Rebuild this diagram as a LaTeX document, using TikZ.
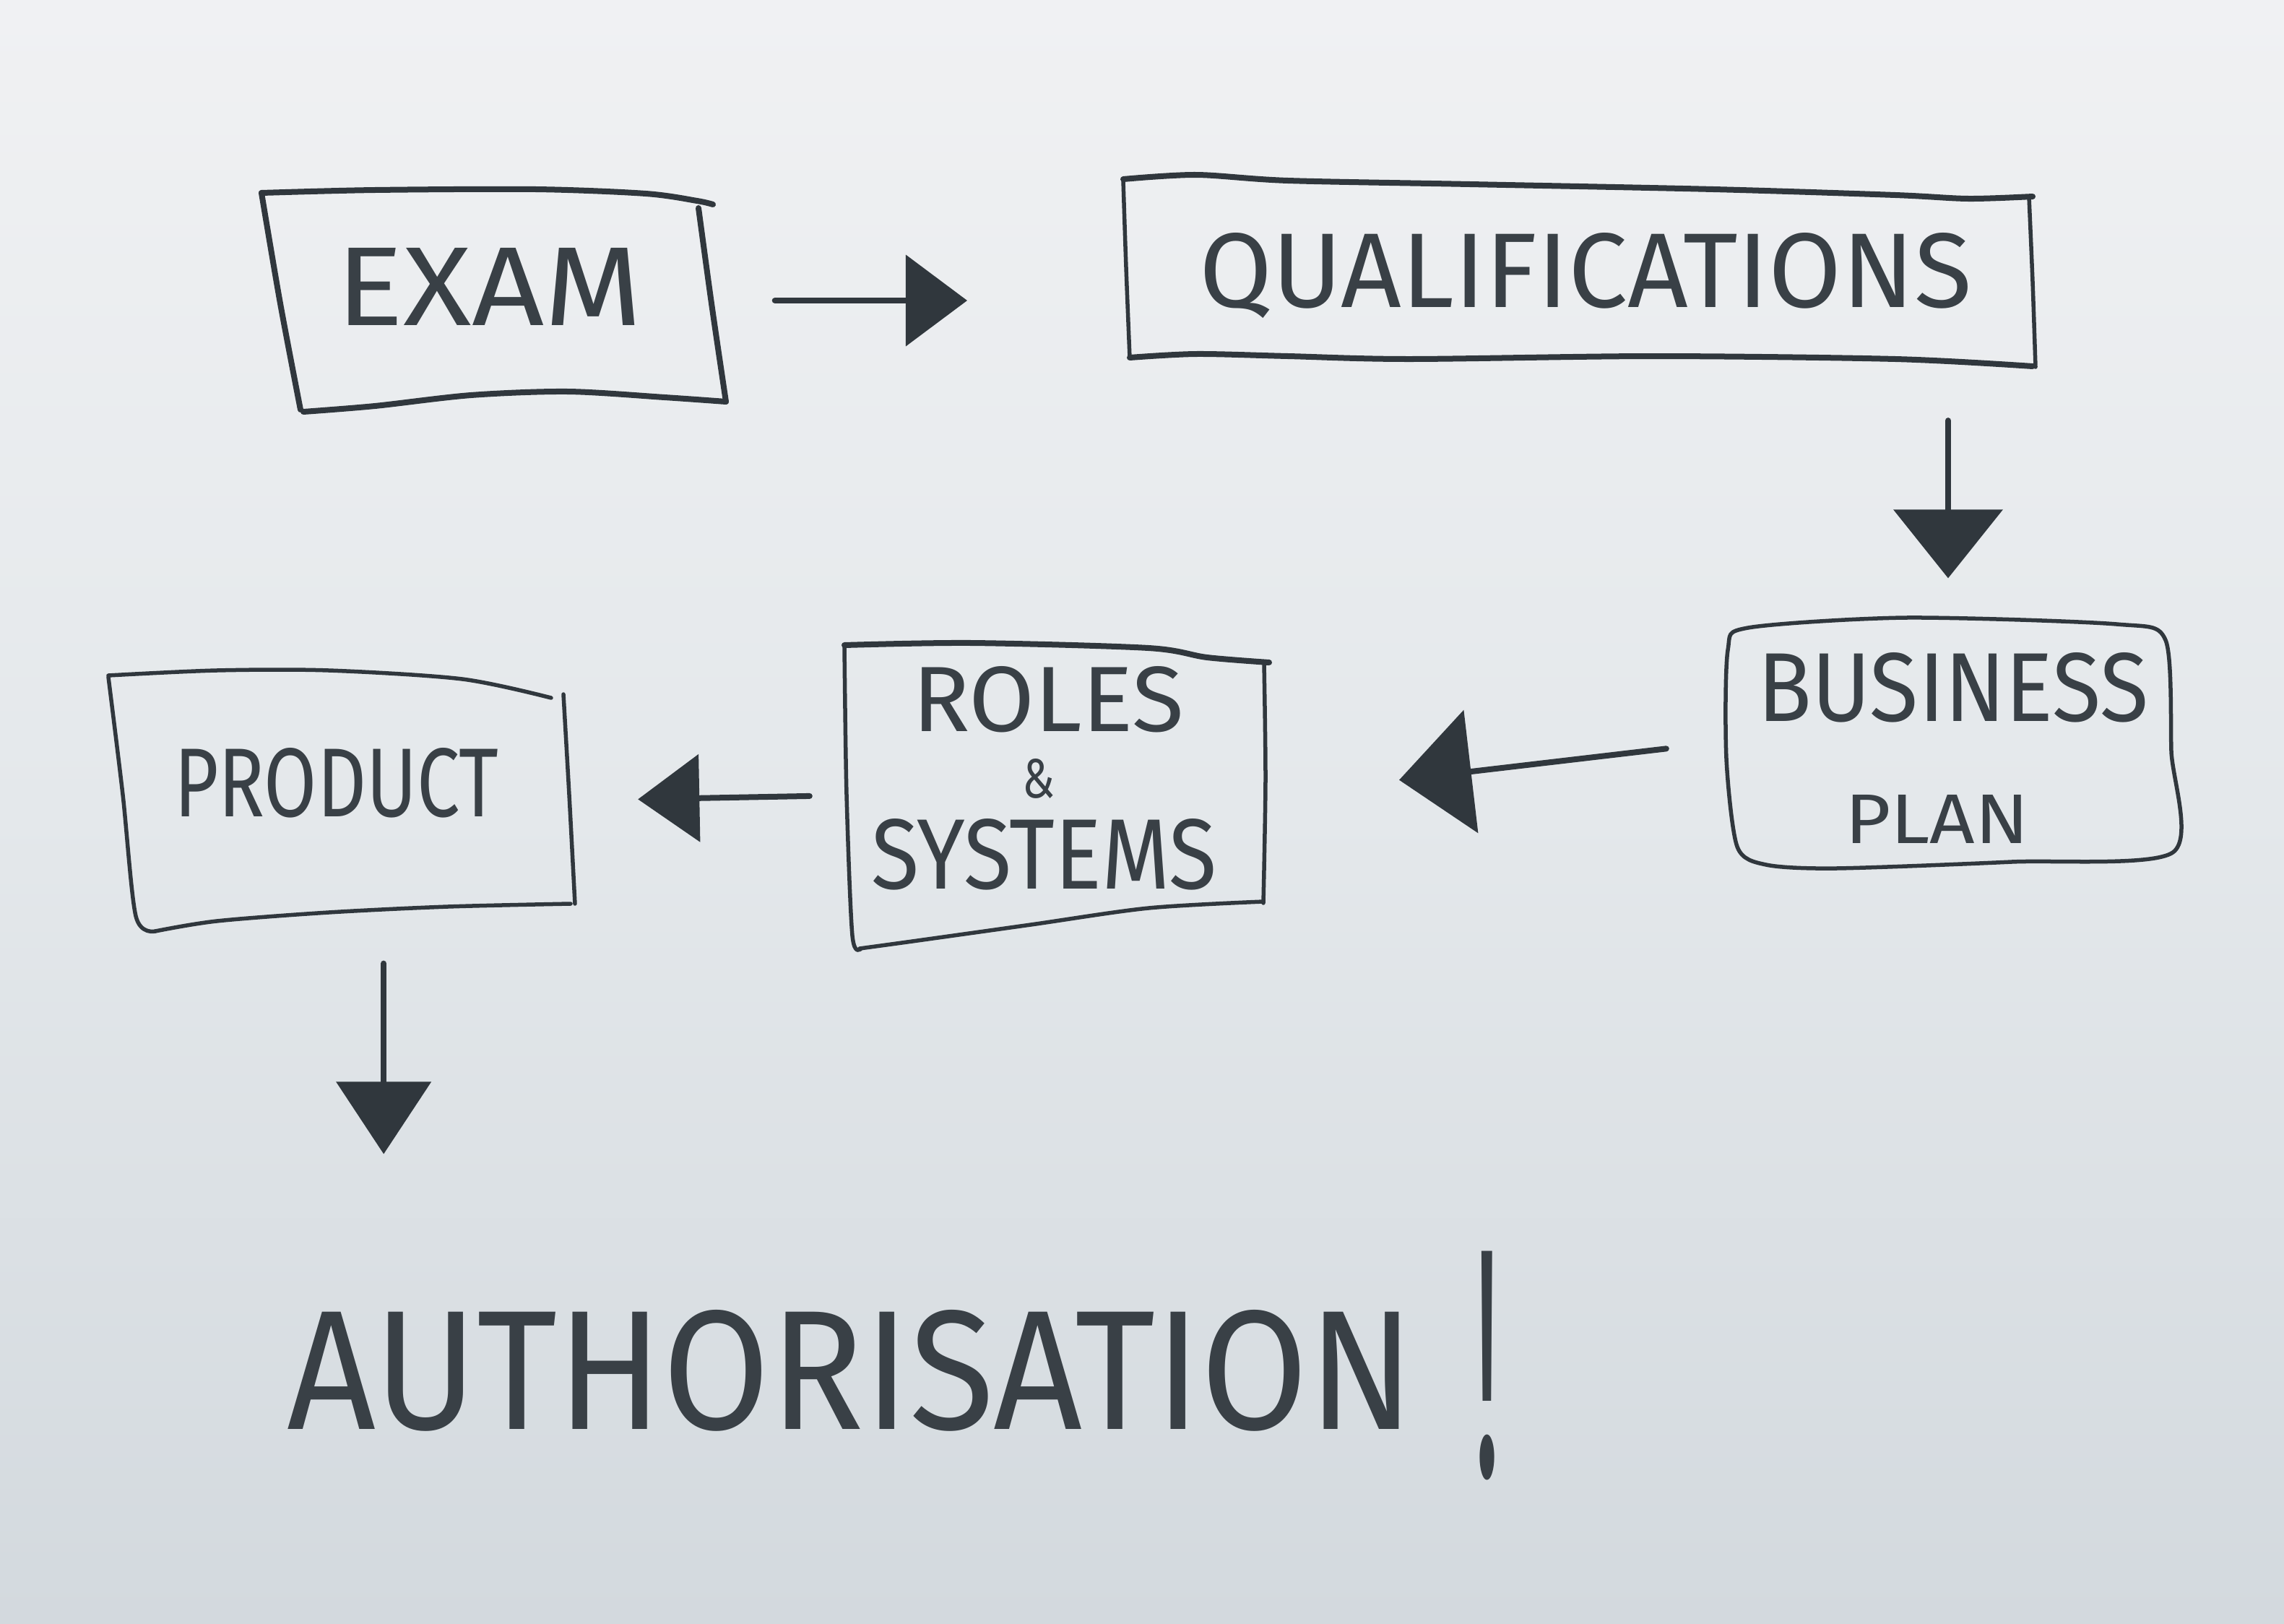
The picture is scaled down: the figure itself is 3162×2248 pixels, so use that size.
\documentclass[tikz,border=0pt]{standalone}
\usepackage{fontspec}
\setmainfont{Fira Sans}
\usepackage{graphicx}
\usetikzlibrary{arrows.meta,calc}
\definecolor{ink}{HTML}{30373D}
\definecolor{textink}{HTML}{394046}
\definecolor{bgtop}{HTML}{F0F1F3}
\definecolor{bgmid}{HTML}{E4E8EB}
\definecolor{bgbot}{HTML}{D3D9DE}
\begin{document}
\begin{tikzpicture}[x=0.01cm,y=-0.01cm,
  mline/.style={draw=ink, line width=0.08cm, line cap=round, line join=round},
  thinline/.style={mline, line width=0.055cm},
  area/.style={inner sep=0pt, outer sep=0pt, draw=none, rectangle},
  txt/.style={inner sep=0pt, outer sep=0pt, anchor=base west, text=textink},
  conn/.style={draw=ink, fill=ink, line width=0.08cm, line cap=round},
]
% background
\shade[top color=bgtop, bottom color=bgbot, middle color=bgmid] (0,0) rectangle (3162,2248);
\useasboundingbox (0,0) rectangle (3162,2248);

% box areas (anchors for connectors)
\node[area, minimum width=6.43cm, minimum height=3.08cm] (exam) at (684,416) {};
\node[area, minimum width=12.61cm, minimum height=2.60cm] (qual) at (2185,375) {};
\node[area, minimum width=6.21cm, minimum height=3.45cm] (biz) at (2697,1027) {};
\node[area, minimum width=5.86cm, minimum height=4.22cm] (roles) at (1462,1101) {};
\node[area, minimum width=6.46cm, minimum height=3.61cm] (prod) at (473,1108) {};

% EXAM box
\draw[mline] plot[smooth, tension=0.5] coordinates {(362,267) (519,263) (742,262) (894,268) (965,278) (987,283)};
\draw[mline] plot[smooth, tension=0.5] coordinates {(967,288) (985,420) (1005,556)};
\draw[mline] plot[smooth, tension=0.5] coordinates {(1005,556) (920,550) (786,542) (652,547) (519,562) (420,570)};
\draw[mline] plot[smooth, tension=0.5] coordinates {(362,267) (388,420) (416,567)};

% QUALIFICATIONS box
\draw[mline] plot[smooth, tension=0.5] coordinates {(1555,248) (1656,242) (1783,250) (2035,255) (2372,262) (2624,270) (2725,275) (2814,272)};
\draw[thinline] plot[smooth, tension=0.5] coordinates {(2809,273) (2814,390) (2818,508)};
\draw[mline] plot[smooth, tension=0.5] coordinates {(2814,507) (2624,497) (2288,493) (1951,497) (1783,493) (1656,490) (1564,495)};
\draw[thinline] plot[smooth, tension=0.5] coordinates {(1555,250) (1559,370) (1564,495)};

% BUSINESS PLAN box
\draw[thinline] plot[smooth cycle, tension=0.45] coordinates {(2420,869) (2639,855) (2930,864) (2998,886) (3006,1040) (3008,1180) (2785,1193) (2542,1202) (2445,1197) (2405,1172) (2390,1050) (2392,900)};

% ROLES & SYSTEMS box
\draw[mline] plot[smooth, tension=0.5] coordinates {(1169,893) (1345,890) (1590,897) (1671,910) (1757,917)};
\draw[thinline] plot[smooth, tension=0.5] coordinates {(1750,918) (1752,1080) (1749,1250)};
\draw[thinline] plot[smooth, tension=0.5] coordinates {(1749,1248) (1590,1257) (1427,1280) (1263,1303) (1190,1313)};
\draw[thinline] plot[smooth, tension=0.5] coordinates {(1169,893) (1172,1100) (1180,1295) (1192,1313)};

% PRODUCT box
\draw[thinline] plot[smooth, tension=0.5] coordinates {(150,935) (300,928) (455,928) (640,940) (763,966)};
\draw[thinline] plot[smooth, tension=0.5] coordinates {(780,961) (788,1100) (796,1251)};
\draw[thinline] plot[smooth, tension=0.5] coordinates {(790,1251) (620,1255) (455,1263) (300,1275) (215,1289)};
\draw[thinline] plot[smooth, tension=0.5] coordinates {(150,937) (170,1100) (188,1268) (215,1289)};

% texts
\node[txt] (examtxt) at (465,450) {\resizebox{4.24cm}{1.07cm}{EXAM}};
\node[txt] (qualtxt) at (1660,425) {\resizebox{10.69cm}{1.03cm}{QUALIFICATIONS}};
\node[txt] (biztxt) at (2433,998) {\resizebox{5.41cm}{0.95cm}{BUSINESS}};
\node[txt] (plantxt) at (2554,1167) {\resizebox{2.55cm}{0.67cm}{PLAN}};
\node[txt] (rolestxt) at (1263,1012) {\resizebox{3.76cm}{0.90cm}{ROLES}};
\node[txt] (andtxt) at (1415,1104) {\resizebox{0.45cm}{0.54cm}{\&}};
\node[txt] (systxt) at (1206,1230) {\resizebox{4.78cm}{0.97cm}{SYSTEMS}};
\node[txt] (prodtxt) at (241,1130) {\resizebox{4.49cm}{0.95cm}{PRODUCT}};
\node[txt] (auth) at (397,1978) {\resizebox{15.6cm}{1.65cm}{AUTHORISATION}\hspace{0.83cm}\raisebox{-0.65cm}{\resizebox{0.35cm}{3.11cm}{!}}};

% connectors
\draw[conn, -{Triangle[length=0.85cm,width=1.25cm]}, shorten <=0.67cm, shorten >=2.15cm] (exam.east) -- (exam.east -| qual.west);
\draw[conn, -{Triangle[length=0.95cm,width=1.5cm]}, shorten <=0.77cm, shorten >=0.54cm] (qual.south -| biz.north) -- (biz.north);
\draw[conn, -{Triangle[length=1.0cm,width=1.7cm]}, shorten <=0.80cm, shorten >=1.83cm] (biz.west) -- (roles.east);
\draw[conn, -{Triangle[length=0.85cm,width=1.2cm]}, shorten <=0.48cm, shorten >=0.87cm] (roles.west) -- (prod.east);
\coordinate (p5) at ($(prod.south west)!0.59!(prod.south east)$);
\draw[conn, -{Triangle[length=1.0cm,width=1.3cm]}, shorten <=0.45cm, shorten >=1.34cm] (p5) -- (p5 |- auth.north);
\end{tikzpicture}
\end{document}
